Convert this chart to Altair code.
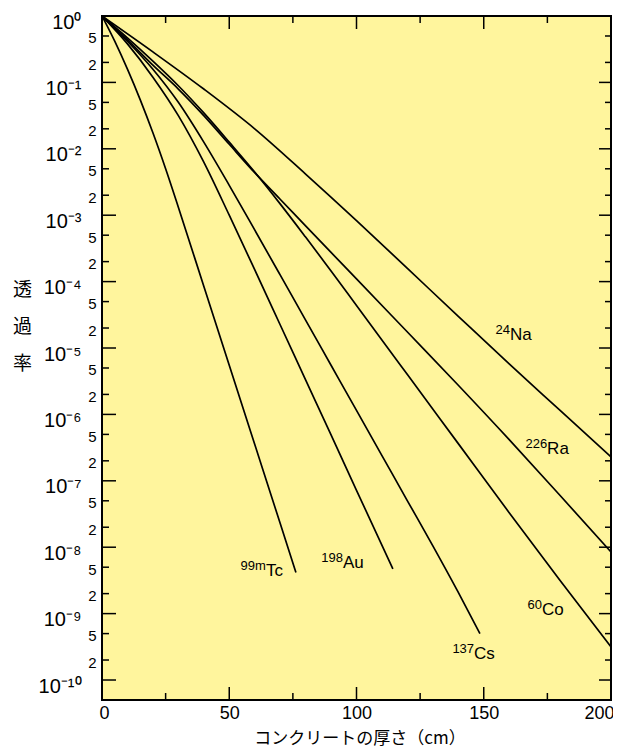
import altair as alt
import pandas as pd

# ---- data ----
isotopes = ["99mTc", "198Au", "137Cs", "60Co", "226Ra", "24Na"]

x_tc = [0, 5, 10, 15, 20, 25, 30, 40, 50, 60, 70, 76.2]
t_tc = [1, 0.417, 0.158, 0.055, 0.0174, 5.0e-3, 1.32e-3, 8.5e-5, 5.5e-6, 3.55e-7, 2.29e-8, 4.17e-9]

x_au = [0, 10, 20, 30, 40, 50, 60, 70, 80, 90, 100, 114.3]
t_au = [1, 0.38, 0.12, 0.0316, 6.3e-3, 1.0e-3, 1.51e-4, 2.24e-5, 3.31e-6, 4.9e-7, 7.2e-8, 4.7e-9]

x_cs = [0, 10, 20, 30, 40, 50, 60, 70, 80, 90, 100, 110, 120, 130, 140, 148.5]
t_cs = [1, 0.417, 0.158, 0.0501, 0.0126, 2.82e-3, 6.0e-4, 1.26e-4, 2.63e-5, 5.5e-6,
        1.15e-6, 2.4e-7, 5.0e-8, 1.05e-8, 2.09e-9, 5.0e-10]

x_co = [0, 10, 20, 30, 40, 50, 60, 70, 80, 90, 100, 120, 140, 160, 180, 200]
t_co = [1, 0.468, 0.209, 0.0891, 0.0347, 0.0126, 4.47e-3, 1.48e-3, 4.68e-4, 1.45e-4,
        4.37e-5, 3.98e-6, 3.63e-7, 3.31e-8, 3.16e-9, 3.16e-10]

x_ra = [0, 10, 20, 30, 40, 50, 60, 70, 80, 90, 100, 120, 140, 160, 180, 200]
t_ra = [1, 0.437, 0.182, 0.0794, 0.0316, 0.0117, 4.37e-3, 1.74e-3, 6.9e-4, 2.75e-4,
        1.1e-4, 1.74e-5, 2.75e-6, 4.17e-7, 6.0e-8, 8.5e-9]

x_na = [0, 20, 40, 60, 80, 100, 120, 140, 160, 180, 200]
t_na = [1, 0.288, 0.0794, 0.02, 4.17e-3, 8.3e-4, 1.58e-4, 3.0e-5, 5.75e-6, 1.15e-6, 2.29e-7]

# curve labels: superscript mass number, element, anchor position
lab_sup = ["99m", "198", "137", "60", "226", "24"]
lab_elem = ["Tc", "Au", "Cs", "Co", "Ra", "Na"]
lab_x = [64.4, 94.7, 146.2, 172.9, 174.9, 160.3]
lab_t = [3.7e-9, 4.9e-9, 2.1e-10, 9.5e-10, 2.5e-7, 1.3e-5]

# axis ticks
y_major = [1, 1e-1, 1e-2, 1e-3, 1e-4, 1e-5, 1e-6, 1e-7, 1e-8, 1e-9, 1e-10]
y_major_text = ["10⁰", "10⁻¹", "10⁻²", "10⁻³", "10⁻⁴", "10⁻⁵", "10⁻⁶", "10⁻⁷", "10⁻⁸", "10⁻⁹", "10⁻¹⁰"]
y_minor = [5e-1, 2e-1, 5e-2, 2e-2, 5e-3, 2e-3, 5e-4, 2e-4, 5e-5, 2e-5, 5e-6, 2e-6,
           5e-7, 2e-7, 5e-8, 2e-8, 5e-9, 2e-9, 5e-10, 2e-10]
y_minor_text = ["5", "2"] * 10
x_major = [0, 50, 100, 150, 200]
x_major_tick = [50, 100, 150]
x_minor_tick = [25, 75, 125, 175]

# ---- build tables ----
series = [(x_tc, t_tc), (x_au, t_au), (x_cs, t_cs), (x_co, t_co), (x_ra, t_ra), (x_na, t_na)]
rows = []
for name, (xs, ts) in zip(isotopes, series):
    for xv, tv in zip(xs, ts):
        rows.append({"iso": name, "x": xv, "T": tv})
df = pd.DataFrame(rows)
labels = pd.DataFrame({"sup": lab_sup, "elem": lab_elem, "x": lab_x, "T": lab_t})

W, H = 509, 684
FONT = "Liberation Sans"
xscale = alt.Scale(domain=[0, 200], nice=False, zero=False)
yscale = alt.Scale(type="log", domain=[5e-11, 1], nice=False)

pairs = sorted(list(zip(y_major, y_major_text)) + list(zip(y_minor, y_minor_text)),
               key=lambda p: -p[0])
expr = "''"
for v, t in reversed(pairs):
    expr = f"datum.value >= {v * 0.99!r} ? '{t}' : ({expr})"

is_major = "abs(log(datum.value)/LN10 - round(log(datum.value)/LN10)) < 0.05"

yaxis = alt.Axis(
    values=y_major + y_minor,
    labelExpr=expr,
    ticks=False,
    domain=False,
    grid=False,
    labelFont=FONT,
    labelColor="black",
    labelFontSize={"condition": {"test": is_major, "value": 20}, "value": 15},
    labelPadding={"condition": {"test": is_major, "value": 21}, "value": 6},
    labelOffset={"condition": {"test": is_major, "value": 6}, "value": 2},
    labelBaseline="middle",
    labelOverlap=False,
    labelFlush=False,
    title=["透", "過", "率"],
    titleFont="Noto Sans CJK JP",
    titleFontSize=19,
    titleFontWeight="normal",
    titleAngle=0,
    titleAlign="center",
    titleBaseline="top",
    titleX=-80,
    titleY=264,
    titleLineHeight=37,
    titleColor="black",
)

xaxis = alt.Axis(
    values=x_major,
    ticks=False,
    domain=False,
    grid=False,
    labelFont=FONT,
    labelFontSize=18,
    labelColor="black",
    labelPadding=4,
    labelFlush=True,
    labelFlushOffset=3,
    labelOverlap=False,
    title="コンクリートの厚さ（cm）",
    titleFont="Noto Sans CJK JP",
    titleFontSize=17,
    titleFontWeight="normal",
    titleColor="black",
    titleBaseline="top",
    titleY=30,
    titleX=W / 2 + 3,
)

lines = alt.Chart(df).mark_line(color="black", strokeWidth=1.7, interpolate="monotone", clip=True).encode(
    x=alt.X("x:Q", scale=xscale, axis=xaxis),
    y=alt.Y("T:Q", scale=yscale, axis=yaxis),
    detail="iso:N",
)

sup = alt.Chart(labels).mark_text(align="right", baseline="alphabetic", dy=-6, fontSize=13,
                                  font=FONT, color="black").encode(
    x=alt.X("x:Q", scale=xscale, axis=xaxis),
    y=alt.Y("T:Q", scale=yscale, axis=yaxis),
    text="sup:N",
)
elem = alt.Chart(labels).mark_text(align="left", baseline="alphabetic", fontSize=17,
                                   font=FONT, color="black").encode(
    x=alt.X("x:Q", scale=xscale, axis=xaxis),
    y=alt.Y("T:Q", scale=yscale, axis=yaxis),
    text="elem:N",
)


def yticks(vals, x0, x1):
    return alt.Chart(pd.DataFrame({"v": vals})).mark_rule(color="black", strokeWidth=1.5).encode(
        y=alt.Y("v:Q", scale=yscale, axis=yaxis), x=alt.value(x0), x2=alt.value(x1))


def xticks(vals, y0, y1):
    return alt.Chart(pd.DataFrame({"v": vals})).mark_rule(color="black", strokeWidth=1.5).encode(
        x=alt.X("v:Q", scale=xscale, axis=xaxis), y=alt.value(y0), y2=alt.value(y1))


ticks = [
    yticks(y_major, 0, 14), yticks(y_minor, 0, 7),
    yticks(y_major, W, W - 12), yticks(y_minor, W, W - 6),
    xticks(x_major_tick, H, H - 13), xticks(x_minor_tick, H, H - 7),
    xticks(x_major_tick, 0, 13), xticks(x_minor_tick, 0, 7),
]

chart = alt.layer(lines, *ticks, sup, elem).properties(
    width=W, height=H,
    autosize=alt.AutoSizeParams(type="none"),
    padding={"left": 94, "top": 8, "right": 2, "bottom": 47},
    background="white",
).configure_view(fill="#FFF59D", stroke="black", strokeWidth=2)

chart.save("out.html", embed_options={"renderer": "svg", "actions": False})
